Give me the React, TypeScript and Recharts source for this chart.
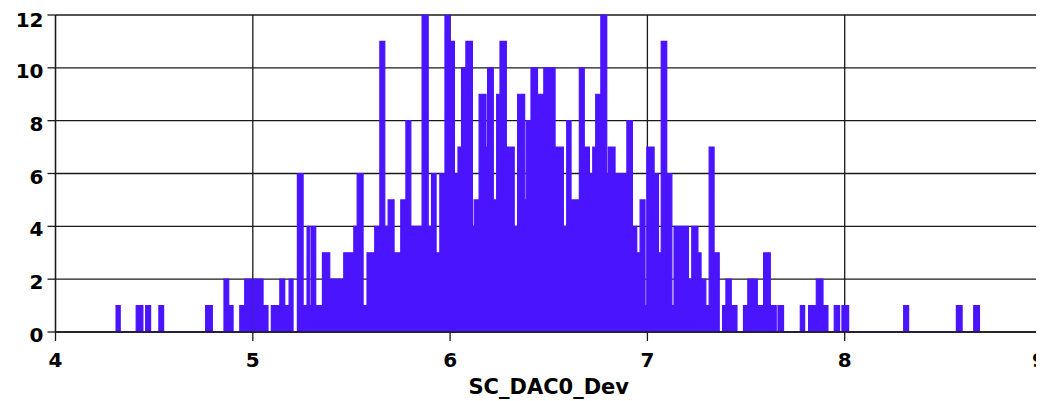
import React from 'react';
import { AreaChart, Area, XAxis, YAxis, CartesianGrid, Label } from 'recharts';

// Histogram steps: left edge of each run (SC_DAC0_Dev value) and its count
const binStart: number[] = [
  4.304, 4.328, 4.409, 4.443, 4.457, 4.482, 4.524, 4.548, 4.761, 4.795,
  4.854, 4.878, 4.900, 4.934, 4.959, 4.993, 5.001, 5.052, 5.077, 5.094,
  5.137, 5.162, 5.184, 5.204, 5.226, 5.255, 5.275, 5.289, 5.297, 5.319,
  5.353, 5.390, 5.461, 5.512, 5.529, 5.559, 5.579, 5.618, 5.644, 5.669,
  5.686, 5.716, 5.750, 5.776, 5.801, 5.858, 5.889, 5.906, 5.929, 5.948,
  5.974, 5.999, 6.022, 6.040, 6.058, 6.080, 6.113, 6.122, 6.147, 6.182,
  6.190, 6.219, 6.236, 6.253, 6.285, 6.325, 6.342, 6.378, 6.386, 6.410,
  6.443, 6.475, 6.532, 6.574, 6.591, 6.613, 6.655, 6.680, 6.706, 6.723,
  6.738, 6.764, 6.794, 6.802, 6.836, 6.896, 6.924, 6.946, 6.963, 6.988,
  6.997, 7.034, 7.056, 7.070, 7.098, 7.124, 7.135, 7.208, 7.225, 7.256,
  7.272, 7.296, 7.313, 7.338, 7.364, 7.381, 7.398, 7.425, 7.454, 7.487,
  7.509, 7.557, 7.589, 7.623, 7.653, 7.662, 7.690, 7.775, 7.797, 7.817,
  7.856, 7.890, 7.915, 7.947, 7.974, 7.986, 8.020, 8.299, 8.324, 8.566,
  8.595, 8.654, 8.683,
];

const counts: number[] = [
  1, 0, 1, 0, 1, 0, 1, 0, 1, 0,
  2, 1, 0, 1, 2, 0, 2, 1, 0, 1,
  2, 1, 2, 0, 6, 1, 4, 1, 4, 1,
  3, 2, 3, 4, 6, 1, 3, 4, 11, 4,
  5, 3, 5, 8, 4, 12, 4, 6, 3, 6,
  12, 11, 6, 7, 10, 11, 4, 5, 9, 7,
  10, 5, 9, 11, 7, 4, 9, 5, 8, 10,
  9, 10, 7, 4, 8, 5, 10, 7, 6, 7,
  9, 12, 6, 7, 6, 8, 4, 3, 5, 1,
  7, 6, 3, 11, 6, 1, 4, 2, 4, 3,
  2, 1, 7, 3, 0, 1, 2, 1, 0, 1,
  2, 1, 3, 1, 0, 1, 0, 1, 0, 1,
  2, 1, 0, 1, 0, 1, 0, 1, 0, 1,
  0, 1, 0,
];

const xTicks: number[] = [4, 5, 6, 7, 8, 9];
const yTicks: number[] = [0, 2, 4, 6, 8, 10, 12];
const xTitle = 'SC_DAC0_Dev';

const data = binStart.map((x, i) => ({ x, count: counts[i] }));

const FONT = "'DejaVu Sans', Verdana, sans-serif";
const tickStyle = { fontFamily: FONT, fontWeight: 700, fontSize: 20, fill: '#000' };
const BAR = '#4a14ff';
const INK = '#1a1a1a';

const YTick = (props: any) => {
  const { x, y, payload } = props;
  return (
    <text
      x={x}
      y={y + 10}
      textAnchor="end"
      fontFamily={FONT}
      fontWeight={700}
      fontSize={20}
      fill="#000"
    >
      {payload.value}
    </text>
  );
};

export default function App() {
  return (
    <AreaChart
      width={1036}
      height={393}
      data={data}
      margin={{ top: 7, right: 2, bottom: 0, left: 0 }}
    >
      <CartesianGrid stroke={INK} strokeWidth={1.3} />
      <XAxis
        dataKey="x"
        type="number"
        domain={[4, 9]}
        ticks={xTicks}
        allowDataOverflow
        height={69}
        tick={tickStyle}
        tickSize={9}
        tickMargin={12}
        stroke={INK}
        tickLine={{ stroke: INK, strokeWidth: 1.3 }}
        axisLine={{ stroke: INK, strokeWidth: 1.3 }}
      >
        <Label
          value={xTitle}
          position="insideBottom"
          offset={7}
          style={{ fontFamily: FONT, fontWeight: 700, fontSize: 21, fill: '#000' }}
        />
      </XAxis>
      <YAxis
        type="number"
        domain={[0, 12]}
        ticks={yTicks}
        width={47.5}
        tick={<YTick />}
        tickSize={8}
        tickMargin={4}
        stroke={INK}
        tickLine={{ stroke: INK, strokeWidth: 1.3 }}
        axisLine={{ stroke: INK, strokeWidth: 1.3 }}
      />
      <Area
        dataKey="count"
        type="stepAfter"
        stroke={BAR}
        strokeWidth={1.2}
        fill={BAR}
        fillOpacity={1}
        isAnimationActive={false}
        dot={false}
        activeDot={false}
      />
    </AreaChart>
  );
}
